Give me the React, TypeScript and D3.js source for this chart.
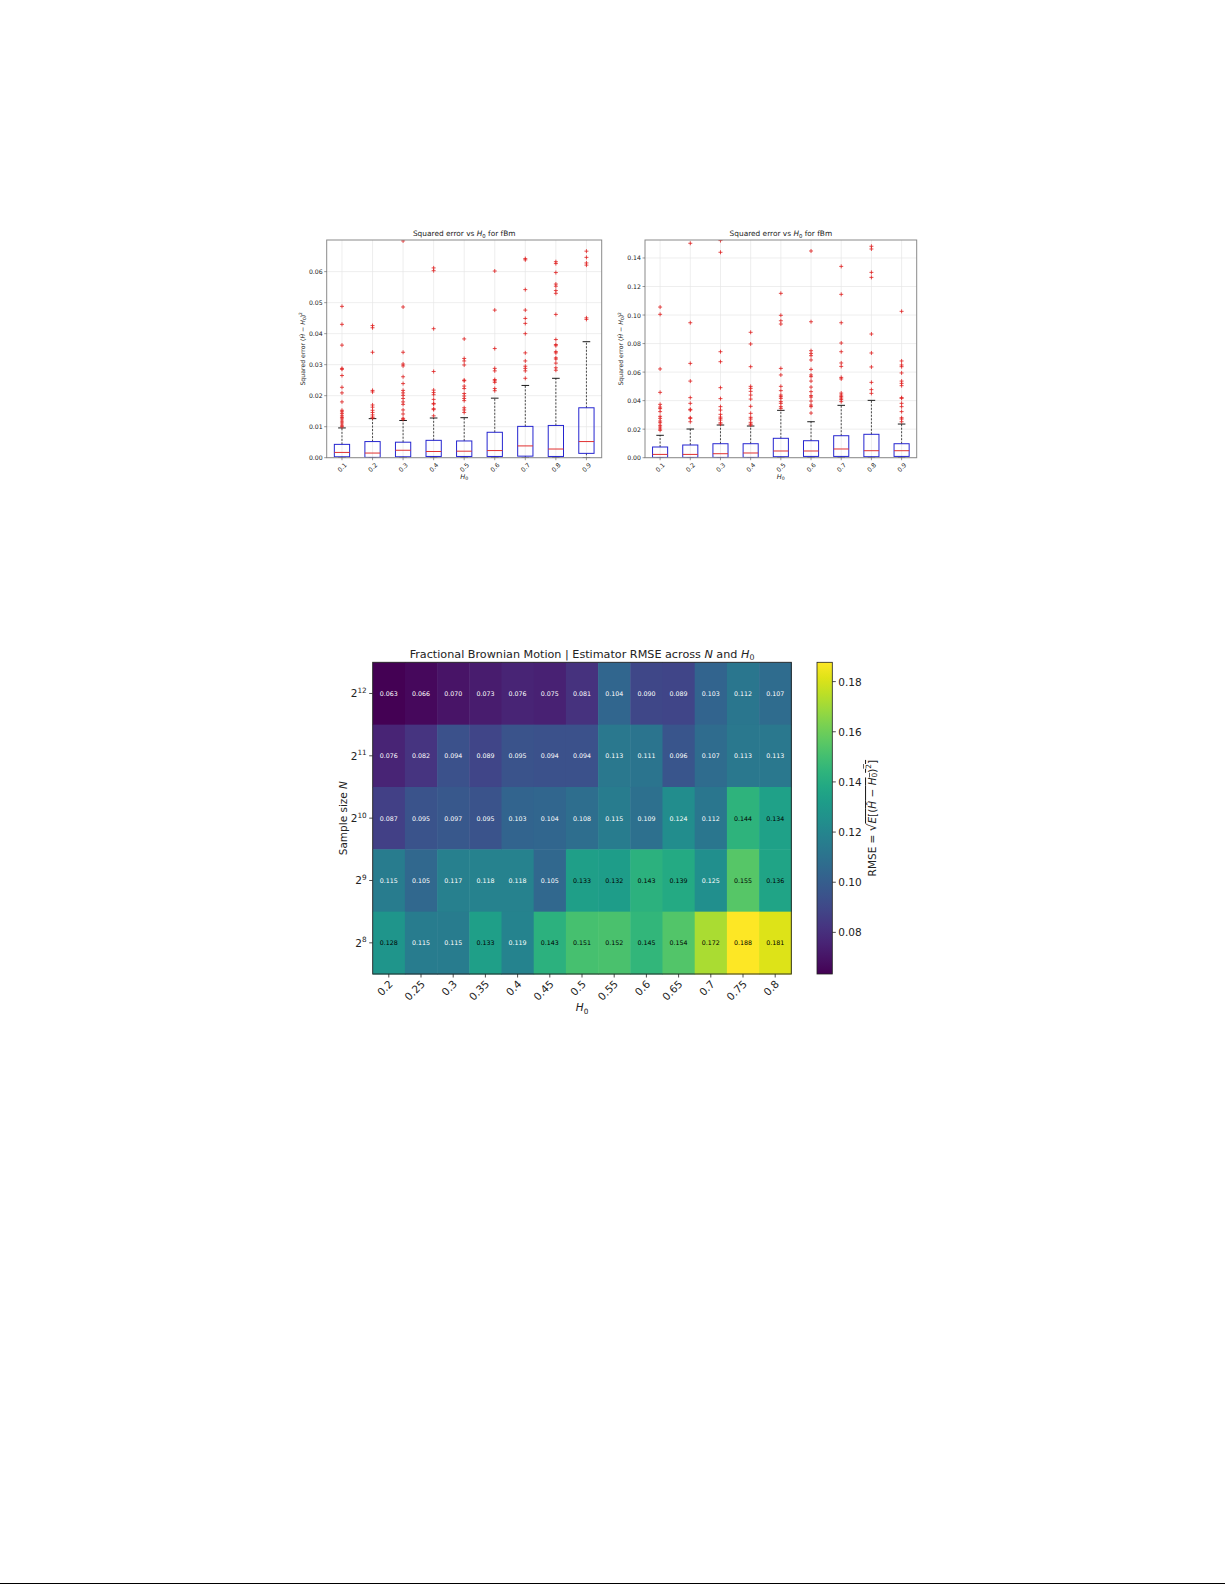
import React from 'react';
import * as d3 from 'd3';

// ---------- Boxplot data ----------
const boxCats = ['0.1', '0.2', '0.3', '0.4', '0.5', '0.6', '0.7', '0.8', '0.9'];

const leftQ1 = [0.0003, 0.0001, 0.0003, 0.0004, 0.0004, 0.0004, 0.0005, 0.0004, 0.0014];
const leftMed = [0.0017, 0.0015, 0.0024, 0.002, 0.0021, 0.0023, 0.0038, 0.0028, 0.0052];
const leftQ3 = [0.0043, 0.0052, 0.005, 0.0056, 0.0054, 0.0082, 0.0101, 0.0104, 0.0161];
const leftWLo = [0, 0, 0, 0, 0, 0, 0, 0, 0];
const leftWHi = [0.0096, 0.0126, 0.012, 0.0128, 0.0129, 0.0192, 0.0233, 0.0256, 0.0374];
const leftOut = [
  [0.0488, 0.043, 0.0363, 0.0288, 0.0285, 0.0265, 0.0227, 0.0209, 0.018, 0.0153, 0.0148, 0.0142, 0.0135, 0.013, 0.0125, 0.0118, 0.0112, 0.0105, 0.01],
  [0.0426, 0.0419, 0.034, 0.0217, 0.0212, 0.017, 0.0163, 0.0153, 0.0146, 0.0138, 0.0131, 0.0128],
  [0.0699, 0.0486, 0.034, 0.0302, 0.0296, 0.0261, 0.0239, 0.0217, 0.0209, 0.0201, 0.0191, 0.018, 0.0172, 0.0154, 0.0141, 0.0127, 0.0124],
  [0.0612, 0.0603, 0.0416, 0.0278, 0.0218, 0.021, 0.0203, 0.0188, 0.0175, 0.0173, 0.0158, 0.0155, 0.0135],
  [0.0383, 0.032, 0.0312, 0.0299, 0.025, 0.0248, 0.0231, 0.0223, 0.0207, 0.0199, 0.0191, 0.0184, 0.0161, 0.0154, 0.0146],
  [0.0602, 0.0476, 0.0352, 0.0288, 0.028, 0.0252, 0.0248, 0.0243, 0.0223, 0.0216],
  [0.0642, 0.0638, 0.0542, 0.0476, 0.0449, 0.0433, 0.04, 0.0338, 0.0312, 0.0295, 0.0288, 0.028, 0.0256],
  [0.0632, 0.0626, 0.0597, 0.056, 0.0553, 0.0539, 0.053, 0.0462, 0.0381, 0.0365, 0.0361, 0.0342, 0.0338, 0.0322, 0.0318, 0.0305, 0.029, 0.0282],
  [0.0666, 0.0646, 0.0628, 0.0621, 0.0451, 0.0446],
];
const leftTicks = [0, 0.01, 0.02, 0.03, 0.04, 0.05, 0.06];

const rightQ1 = [0.0002, 0.0002, 0.0002, 0.0002, 0.0007, 0.0009, 0.0009, 0.0007, 0.0009];
const rightMed = [0.0023, 0.0023, 0.0028, 0.0033, 0.0047, 0.0047, 0.0061, 0.0049, 0.0049];
const rightQ3 = [0.0075, 0.0089, 0.0098, 0.0098, 0.0136, 0.0119, 0.0154, 0.0164, 0.0098];
const rightWLo = [0, 0, 0, 0, 0, 0, 0, 0, 0];
const rightWHi = [0.0157, 0.0201, 0.0229, 0.0222, 0.0332, 0.0252, 0.0367, 0.0402, 0.0236];
const rightOut = [
  [0.1056, 0.1005, 0.0622, 0.0458, 0.0374, 0.0355, 0.0344, 0.0323, 0.029, 0.0276, 0.0257, 0.0245, 0.0227, 0.0215, 0.0201, 0.0192],
  [0.1503, 0.0946, 0.0661, 0.0537, 0.0421, 0.0381, 0.0339, 0.0334, 0.028, 0.0276, 0.0252],
  [0.1522, 0.144, 0.0743, 0.0673, 0.0491, 0.0414, 0.0358, 0.0334, 0.0304, 0.0285, 0.0276, 0.0264, 0.0245, 0.0236],
  [0.0879, 0.0797, 0.0638, 0.05, 0.0486, 0.0465, 0.0439, 0.0411, 0.036, 0.0311, 0.0283, 0.0271, 0.0248, 0.0236, 0.0229],
  [0.1152, 0.0998, 0.096, 0.0937, 0.0626, 0.058, 0.05, 0.047, 0.0439, 0.0428, 0.0416, 0.0393, 0.0381, 0.0358, 0.0346],
  [0.1449, 0.0953, 0.075, 0.0731, 0.0715, 0.0685, 0.0619, 0.058, 0.0568, 0.0537, 0.0495, 0.0463, 0.0435, 0.0425, 0.0397, 0.0369, 0.0358, 0.0313],
  [0.1341, 0.1145, 0.0946, 0.0804, 0.0743, 0.0664, 0.064, 0.0563, 0.0552, 0.0453, 0.0439, 0.0428, 0.0418, 0.0407, 0.0393],
  [0.1482, 0.1463, 0.1299, 0.1264, 0.0867, 0.0734, 0.0636, 0.0528, 0.0477, 0.0451],
  [0.1026, 0.0678, 0.065, 0.0638, 0.0594, 0.0537, 0.0521, 0.0505, 0.0421, 0.0416, 0.0381, 0.0358, 0.0323, 0.028, 0.0271, 0.0252],
];
const rightTicks = [0, 0.02, 0.04, 0.06, 0.08, 0.1, 0.12, 0.14];

// ---------- Heatmap data ----------
const hmCols = ['0.2', '0.25', '0.3', '0.35', '0.4', '0.45', '0.5', '0.55', '0.6', '0.65', '0.7', '0.75', '0.8'];
const hmRowExps = ['12', '11', '10', '9', '8'];
const row4096 = [0.063, 0.066, 0.070, 0.073, 0.076, 0.075, 0.081, 0.104, 0.090, 0.089, 0.103, 0.112, 0.107];
const row2048 = [0.076, 0.082, 0.094, 0.089, 0.095, 0.094, 0.094, 0.113, 0.111, 0.096, 0.107, 0.113, 0.113];
const row1024 = [0.087, 0.095, 0.097, 0.095, 0.103, 0.104, 0.108, 0.115, 0.109, 0.124, 0.112, 0.144, 0.134];
const row512 = [0.115, 0.105, 0.117, 0.118, 0.118, 0.105, 0.133, 0.132, 0.143, 0.139, 0.125, 0.155, 0.136];
const row256 = [0.128, 0.115, 0.115, 0.133, 0.119, 0.143, 0.151, 0.152, 0.145, 0.154, 0.172, 0.188, 0.181];
const hmRows = [row4096, row2048, row1024, row512, row256];
const cbTicks = [0.08, 0.10, 0.12, 0.14, 0.16, 0.18];

const FONT = '"DejaVu Sans", sans-serif';

function BoxPanel(props: any) {
  const { x0, x1, y0, y1, ymax, ticks, q1, med, q3, wlo, whi, out, id } = props;
  const x = d3.scaleBand().domain(boxCats).range([x0, x1]).padding(0);
  const y = d3.scaleLinear().domain([0, ymax]).range([y1, y0]);
  const bw = x.bandwidth();
  const half = bw * 0.25;
  const cap = bw * 0.125;
  const cx = (c: string) => (x(c) as number) + bw / 2;
  const tfs = 6.2;
  return (
    <g>
      <defs>
        <clipPath id={id}>
          <rect x={x0} y={y0} width={x1 - x0} height={y1 - y0} />
        </clipPath>
      </defs>
      {ticks.map((t: number) => (
        <line key={'gy' + t} x1={x0} x2={x1} y1={y(t)} y2={y(t)} stroke="#e6e6e6" strokeWidth={0.7} />
      ))}
      {boxCats.map((c) => (
        <line key={'gx' + c} x1={cx(c)} x2={cx(c)} y1={y0} y2={y1} stroke="#e6e6e6" strokeWidth={0.7} />
      ))}
      <g clipPath={`url(#${id})`}>
        {boxCats.map((c, i) => {
          const xc = cx(c);
          return (
            <g key={'b' + c}>
              <line x1={xc} x2={xc} y1={y(q3[i])} y2={y(whi[i])} stroke="#000" strokeWidth={0.7} strokeDasharray="2,1.5" />
              <line x1={xc} x2={xc} y1={y(q1[i])} y2={y(wlo[i])} stroke="#000" strokeWidth={0.7} strokeDasharray="2,1.5" />
              <line x1={xc - cap} x2={xc + cap} y1={y(whi[i])} y2={y(whi[i])} stroke="#000" strokeWidth={0.9} />
              <line x1={xc - cap} x2={xc + cap} y1={y(wlo[i])} y2={y(wlo[i])} stroke="#000" strokeWidth={0.9} />
              <rect x={xc - half} y={y(q3[i])} width={half * 2} height={y(q1[i]) - y(q3[i])} fill="none" stroke="#2525d0" strokeWidth={1} />
              <line x1={xc - half} x2={xc + half} y1={y(med[i])} y2={y(med[i])} stroke="#e03030" strokeWidth={1} />
              {out[i].map((v: number, k: number) => (
                <g key={k} stroke="#e02020" strokeWidth={0.8}>
                  <line x1={xc - 2} x2={xc + 2} y1={y(v)} y2={y(v)} />
                  <line x1={xc} x2={xc} y1={y(v) - 2} y2={y(v) + 2} />
                </g>
              ))}
            </g>
          );
        })}
      </g>
      <rect x={x0} y={y0} width={x1 - x0} height={y1 - y0} fill="none" stroke="#8a8a8a" strokeWidth={1} />
      {ticks.map((t: number) => (
        <g key={'yt' + t}>
          <line x1={x0 - 2.5} x2={x0} y1={y(t)} y2={y(t)} stroke="#555" strokeWidth={0.6} />
          <text x={x0 - 4} y={y(t)} fontSize={tfs} textAnchor="end" dominantBaseline="central" fill="#222" fontFamily={FONT}>
            {t.toFixed(2)}
          </text>
        </g>
      ))}
      {boxCats.map((c) => (
        <g key={'xt' + c}>
          <line x1={cx(c)} x2={cx(c)} y1={y1} y2={y1 + 2.5} stroke="#555" strokeWidth={0.6} />
          <text x={cx(c)} y={y1 + 9.5} fontSize={tfs} textAnchor="middle" dominantBaseline="central" fill="#222" fontFamily={FONT}
            transform={`rotate(-45 ${cx(c)} ${y1 + 9.5})`}>
            {c}
          </text>
        </g>
      ))}
      <text x={(x0 + x1) / 2} y={y1 + 21} fontSize={6.6} textAnchor="middle" fill="#222" fontFamily={FONT}>
        <tspan fontStyle="italic">H</tspan>
        <tspan fontSize={4.7} dy={1.5}>0</tspan>
      </text>
      <text x={(x0 + x1) / 2} y={y0 - 4} fontSize={7.4} textAnchor="middle" fill="#222" fontFamily={FONT}>
        Squared error vs <tspan fontStyle="italic">H</tspan>
        <tspan fontSize={5.3} dy={1.5}>0</tspan>
        <tspan dy={-1.5}> for fBm</tspan>
      </text>
      <text transform={`translate(${x0 - 22},${(y0 + y1) / 2}) rotate(-90)`} fontSize={6.2} textAnchor="middle" fill="#222" fontFamily={FONT}>
        Squared error (<tspan fontStyle="italic">Ĥ</tspan> − <tspan fontStyle="italic">H</tspan>
        <tspan fontSize={4.4} dy={1.3}>0</tspan>
        <tspan dy={-1.3}>)</tspan>
        <tspan fontSize={4.4} dy={-2.5}>2</tspan>
      </text>
    </g>
  );
}

function Heatmap() {
  const x0 = 372.7, x1 = 791.3, y0 = 662.3, y1 = 974;
  const x = d3.scaleBand().domain(hmCols).range([x0, x1]);
  const y = d3.scaleBand().domain(hmRowExps).range([y0, y1]);
  const vmin = 0.0634, vmax = 0.1877;
  const color = d3.scaleSequential(d3.interpolateViridis).domain([vmin, vmax]);
  const thr = (vmin + vmax) / 2;
  const cbx0 = 817, cbx1 = 832.3;
  const cy = d3.scaleLinear().domain([vmin, vmax]).range([y1, y0]);
  const stops = d3.range(0, 1.0001, 0.05);
  const fs = 10.5;
  return (
    <g fontFamily={FONT}>
      <defs>
        <linearGradient id="vir" x1="0" y1="1" x2="0" y2="0">
          {stops.map((s) => (
            <stop key={s} offset={s} stopColor={d3.interpolateViridis(s)} />
          ))}
        </linearGradient>
      </defs>
      {hmRows.map((row, r) =>
        row.map((v, c) => (
          <rect key={r + '-' + c} x={x(hmCols[c]) as number} y={y(hmRowExps[r]) as number}
            width={x.bandwidth() + 0.5} height={y.bandwidth() + 0.5} fill={color(v)} />
        ))
      )}
      {hmRows.map((row, r) =>
        row.map((v, c) => (
          <text key={'t' + r + '-' + c} x={(x(hmCols[c]) as number) + x.bandwidth() / 2} y={(y(hmRowExps[r]) as number) + y.bandwidth() / 2}
            fontSize={6.3} textAnchor="middle" dominantBaseline="central" fill={v > thr ? '#000' : '#fff'}>
            {v.toFixed(3)}
          </text>
        ))
      )}
      <rect x={x0} y={y0} width={x1 - x0} height={y1 - y0} fill="none" stroke="#222" strokeWidth={0.9} />
      {hmCols.map((c) => {
        const xc = (x(c) as number) + x.bandwidth() / 2;
        return (
          <g key={'xt' + c}>
            <line x1={xc} x2={xc} y1={y1} y2={y1 + 3.5} stroke="#222" strokeWidth={0.8} />
            <text x={xc - 1} y={y1 + 5} fontSize={fs} textAnchor="end" dominantBaseline="hanging" fill="#222"
              transform={`rotate(-45 ${xc - 1} ${y1 + 5})`}>
              {c}
            </text>
          </g>
        );
      })}
      {hmRowExps.map((e) => {
        const yc = (y(e) as number) + y.bandwidth() / 2;
        return (
          <g key={'yt' + e}>
            <line x1={x0 - 3.5} x2={x0} y1={yc} y2={yc} stroke="#222" strokeWidth={0.8} />
            <text x={x0 - 6} y={yc + 4} fontSize={fs} textAnchor="end" fill="#222">
              2<tspan fontSize={7.3} dy={-4.5}>{e}</tspan>
            </text>
          </g>
        );
      })}
      <text x={(x0 + x1) / 2} y={1011} fontSize={fs} textAnchor="middle" fill="#222">
        <tspan fontStyle="italic">H</tspan>
        <tspan fontSize={7.3} dy={2.5}>0</tspan>
      </text>
      <text transform={`translate(347,${(y0 + y1) / 2}) rotate(-90)`} fontSize={fs} textAnchor="middle" fill="#222">
        Sample size <tspan fontStyle="italic">N</tspan>
      </text>
      <text x={(x0 + x1) / 2} y={y0 - 4.5} fontSize={11.2} textAnchor="middle" fill="#222">
        Fractional Brownian Motion | Estimator RMSE across <tspan fontStyle="italic">N</tspan> and <tspan fontStyle="italic">H</tspan>
        <tspan fontSize={7.8} dy={2.5}>0</tspan>
      </text>
      <rect x={cbx0} y={y0} width={cbx1 - cbx0} height={y1 - y0} fill="url(#vir)" />
      <rect x={cbx0} y={y0} width={cbx1 - cbx0} height={y1 - y0} fill="none" stroke="#222" strokeWidth={0.8} />
      {cbTicks.map((t) => (
        <g key={'cb' + t}>
          <line x1={cbx1} x2={cbx1 + 3.5} y1={cy(t)} y2={cy(t)} stroke="#222" strokeWidth={0.8} />
          <text x={cbx1 + 6} y={cy(t)} fontSize={fs} dominantBaseline="central" fill="#222">
            {t.toFixed(2)}
          </text>
        </g>
      ))}
      <g transform={`translate(872,${(y0 + y1) / 2}) rotate(-90)`}>
        <text x={0} y={0} fontSize={fs} textAnchor="middle" dominantBaseline="central" fill="#222">
          RMSE = <tspan fontSize={12}>√</tspan><tspan style={{ textDecoration: 'overline' }}>
            <tspan fontStyle="italic">E</tspan>[(<tspan fontStyle="italic">Ĥ</tspan> − <tspan fontStyle="italic">H</tspan>
            <tspan fontSize={7.3} dy={2}>0</tspan>
            <tspan dy={-2}>)</tspan>
            <tspan fontSize={7.3} dy={-4}>2</tspan>
            <tspan dy={4}>]</tspan>
          </tspan>
        </text>
      </g>
    </g>
  );
}

export default function App() {
  return (
    <div style={{ position: 'absolute', left: 0, top: 0 }}>
      <svg width={1225} height={1585} style={{ display: 'block', background: '#fff' }}>
        <rect x={0} y={0} width={1225} height={1585} fill="#fff" />
        <BoxPanel id="clipL" x0={326.7} x1={601.7} y0={240} y1={457.7} ymax={0.0702} ticks={leftTicks}
          q1={leftQ1} med={leftMed} q3={leftQ3} wlo={leftWLo} whi={leftWHi} out={leftOut} />
        <BoxPanel id="clipR" x0={645} x1={916.7} y0={240} y1={457.7} ymax={0.1526} ticks={rightTicks}
          q1={rightQ1} med={rightMed} q3={rightQ3} wlo={rightWLo} whi={rightWHi} out={rightOut} />
        <Heatmap />
        <line x1={0} x2={1225} y1={1583.5} y2={1583.5} stroke="#000" strokeWidth={1} />
      </svg>
    </div>
  );
}
